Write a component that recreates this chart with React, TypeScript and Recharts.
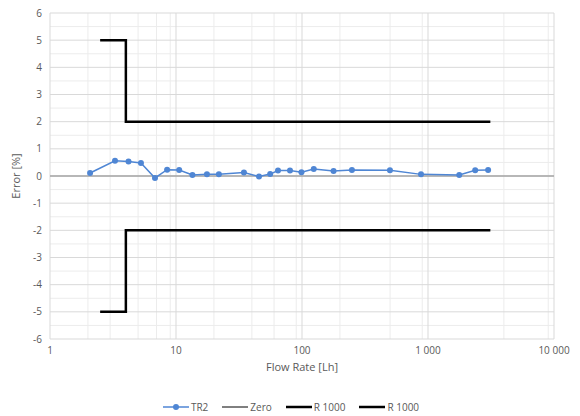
import {
  LineChart,
  Line,
  XAxis,
  YAxis,
  CartesianGrid,
  ReferenceLine,
} from 'recharts';

// TR2 measurements: flow rate [L/h] and error [%]
const tr2Flow = [2.08, 3.28, 4.2, 5.27, 6.81, 8.5, 10.6, 13.5, 17.6, 21.9, 34.6, 45.6, 55.9, 64.5, 80.3, 99, 124, 178, 249, 499, 880, 1770, 2370, 3000];
const tr2Error = [0.11, 0.56, 0.53, 0.48, -0.07, 0.23, 0.22, 0.04, 0.06, 0.06, 0.13, -0.02, 0.07, 0.2, 0.2, 0.14, 0.26, 0.18, 0.22, 0.21, 0.06, 0.04, 0.21, 0.22];

// R 1000 limits (MPE envelope)
const limitFlow = [2.5, 4, 4, 3125];
const upperLimit = [5, 5, 2, 2];
const lowerLimit = [-5, -5, -2, -2];

const xTicks = [1, 10, 100, 1000, 10000];
const yTicks = [-6, -5, -4, -3, -2, -1, 0, 1, 2, 3, 4, 5, 6];
const yMinor = [-5.5, -4.5, -3.5, -2.5, -1.5, -0.5, 0.5, 1.5, 2.5, 3.5, 4.5, 5.5];
const xMinor = [1, 10, 100, 1000].flatMap((d) => [2, 3, 4, 5, 6, 7, 8, 9].map((m) => d * m));

const tr2Data = tr2Flow.map((x, i) => ({ x, y: tr2Error[i] }));
const upperData = limitFlow.map((x, i) => ({ x, y: upperLimit[i] }));
const lowerData = limitFlow.map((x, i) => ({ x, y: lowerLimit[i] }));

const fmt = (v: number) => v.toLocaleString('en-US').replace(/,/g, ' ');

const font = '"Open Sans", "Liberation Sans", sans-serif';
const blue = '#4f86d4';

function LegendItem({ label, kind }: { label: string; kind: 'dot' | 'thin' | 'thick' }) {
  return (
    <span style={{ display: 'inline-flex', alignItems: 'center', marginRight: 12 }}>
      <svg width={30} height={10}>
        {kind === 'dot' && (
          <>
            <line x1={2} y1={5} x2={28} y2={5} stroke={blue} strokeWidth={1.5} />
            <circle cx={15} cy={5} r={3} fill={blue} />
          </>
        )}
        {kind === 'thin' && <line x1={2} y1={5} x2={28} y2={5} stroke="#000" strokeWidth={1} />}
        {kind === 'thick' && <line x1={2} y1={5} x2={28} y2={5} stroke="#000" strokeWidth={2.5} />}
      </svg>
      <span>{label}</span>
    </span>
  );
}

export default function App() {
  return (
    <div style={{ position: 'absolute', left: 0, top: 0, width: 580, height: 416, background: '#fff', fontFamily: font }}>
      <LineChart width={580} height={416} margin={{ top: 13, right: 26, left: 0, bottom: 0 }}>
        <CartesianGrid
          stroke="#ececec"
          horizontalValues={yMinor}
          verticalValues={xMinor}
        />
        <CartesianGrid stroke="#d9d9d9" horizontalValues={yTicks} verticalValues={xTicks} />
        <XAxis
          type="number"
          dataKey="x"
          scale="log"
          domain={[1, 10000]}
          ticks={xTicks}
          tickFormatter={fmt}
          allowDataOverflow
          axisLine={false}
          tickLine={false}
          tick={{ fontSize: 10, fill: '#595959', fontFamily: font }}
          height={77}
          label={{ value: 'Flow Rate [Lh]', position: 'insideTop', offset: 24, fontSize: 11, fill: '#595959', fontFamily: font }}
        />
        <YAxis
          type="number"
          dataKey="y"
          domain={[-6, 6]}
          ticks={yTicks}
          axisLine={false}
          tickLine={false}
          width={50}
          tick={{ fontSize: 10, fill: '#595959', fontFamily: font }}
          label={{ value: 'Error [%]', angle: -90, position: 'insideLeft', offset: 16, fontSize: 11, fill: '#595959', fontFamily: font, style: { textAnchor: 'middle' } }}
        />
        <ReferenceLine y={0} stroke="#a6a6a6" strokeWidth={1.5} />
        <Line data={upperData} dataKey="y" stroke="#000" strokeWidth={2.5} dot={false} isAnimationActive={false} />
        <Line data={lowerData} dataKey="y" stroke="#000" strokeWidth={2.5} dot={false} isAnimationActive={false} />
        <Line
          data={tr2Data}
          dataKey="y"
          stroke={blue}
          strokeWidth={1.5}
          dot={{ r: 3, fill: blue, stroke: blue, strokeWidth: 0 }}
          isAnimationActive={false}
        />
      </LineChart>
      <div
        style={{
          position: 'absolute',
          top: 400,
          left: 0,
          width: 580,
          fontSize: 10,
          color: '#595959',
          display: 'flex',
          justifyContent: 'center',
          paddingLeft: 12,
          boxSizing: 'border-box',
        }}
      >
        <LegendItem label="TR2" kind="dot" />
        <LegendItem label="Zero" kind="thin" />
        <LegendItem label="R 1000" kind="thick" />
        <LegendItem label="R 1000" kind="thick" />
      </div>
    </div>
  );
}
